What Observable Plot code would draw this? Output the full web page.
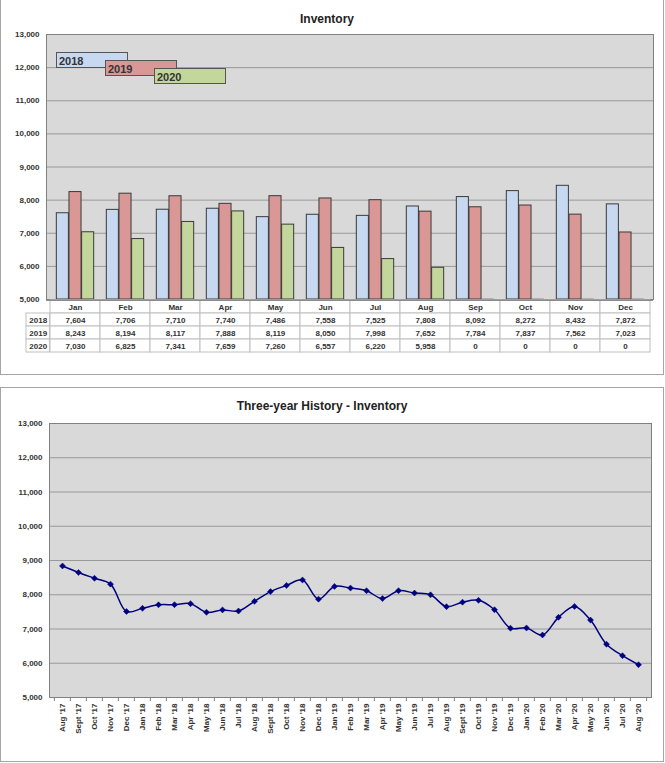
<!DOCTYPE html>
<html>
<head>
<meta charset="utf-8">
<script src="https://cdn.jsdelivr.net/npm/d3@7"></script>
<script src="https://cdn.jsdelivr.net/npm/@observablehq/plot@0.6"></script>
<style>
  html, body { margin: 0; padding: 0; background: #fff; overflow: hidden; }
  #root { position: relative; width: 665px; height: 763px; font-family: "Liberation Sans", Arial, sans-serif; }
  .panel { position: absolute; box-sizing: border-box; border: 1px solid #a6a6a6; background: #fff; }
  .title { position: absolute; font-weight: bold; font-size: 12px; color: #222; white-space: nowrap; transform: translateX(-50%); }
  .leg { position: absolute; box-sizing: border-box; border: 1px solid #555; font-weight: bold; font-size: 11px; color: #333; padding-left: 2px; line-height: 13px; padding-top: 2px; }
</style>
</head>
<body>
<div id="root"></div>
<script>
// ---------- data ----------
const months = ["Jan","Feb","Mar","Apr","May","Jun","Jul","Aug","Sep","Oct","Nov","Dec"];
const years = ["2018","2019","2020"];
const inv2018 = [7604,7706,7710,7740,7486,7558,7525,7808,8092,8272,8432,7872];
const inv2019 = [8243,8194,8117,7888,8119,8050,7998,7652,7784,7837,7562,7023];
const inv2020 = [7030,6825,7341,7659,7260,6557,6220,5958,0,0,0,0];
const yTicks = [5000,6000,7000,8000,9000,10000,11000,12000,13000];
const historyLabels = ["Aug '17","Sept '17","Oct '17","Nov '17","Dec '17",
  "Jan '18","Feb '18","Mar '18","Apr '18","May '18","Jun '18","Jul '18","Aug '18","Sept '18","Oct '18","Nov '18","Dec '18",
  "Jan '19","Feb '19","Mar '19","Apr '19","May '19","Jun '19","Jul '19","Aug '19","Sept '19","Oct '19","Nov '19","Dec '19",
  "Jan '20","Feb '20","Mar '20","Apr '20","May '20","Jun '20","Jul '20","Aug '20"];
const historyValues = [8840,8650,8480,8310,7510,
  7604,7706,7710,7740,7486,7558,7525,7808,8092,8272,8432,7872,
  8243,8194,8117,7888,8119,8050,7998,7652,7784,7837,7562,7023,
  7030,6825,7341,7659,7260,6557,6220,5958];

const yearColors = ["#c6d9f0","#d99795","#c3d69b"];
const series = [inv2018, inv2019, inv2020];
const fmt = d3.format(",");
const FONT = '"Liberation Sans", Arial, sans-serif';

const root = document.getElementById("root");
function add(html) { root.insertAdjacentHTML("beforeend", html); }

// panels
add('<div class="panel" style="left:0;top:-2px;width:664px;height:377px"></div>');
add('<div class="panel" style="left:0;top:387px;width:664px;height:375px"></div>');
add('<div class="title" style="left:327px;top:12px">Inventory</div>');
add('<div class="title" style="left:322px;top:399px">Three-year History - Inventory</div>');

// ---------- bar chart ----------
const W = 665, ML = 46, MR = 12;
const bw = (W - ML - MR) / months.length;
const rows = [];
years.forEach((yr, i) => months.forEach((m, j) => rows.push({year: yr, month: m, value: series[i][j]})));
const yMin = yTicks[0];

const barMarks = [
  Plot.frame({fill: "#d9d9d9"}),
  Plot.ruleY(yTicks, {stroke: "#999", strokeWidth: 1})
];
years.forEach((yr, i) => {
  const inL = bw / 8 + i * bw / 4;
  const inR = bw - bw / 8 - (i + 1) * bw / 4;
  const data = rows.filter(r => r.year === yr);
  barMarks.push(Plot.barY(data.filter(d => d.value > yMin), {
    x: "month", y1: () => yMin, y2: "value",
    fill: yearColors[i], stroke: "#3a3a3a", strokeWidth: 1,
    insetLeft: inL, insetRight: inR
  }));
  barMarks.push(Plot.tickY(data.filter(d => d.value <= yMin), {
    x: "month", y: () => yMin, stroke: "#3a3a3a", strokeWidth: 1.5,
    insetLeft: inL, insetRight: inR
  }));
});
barMarks.push(Plot.frame({stroke: "#808080"}));

const barPlot = Plot.plot({
  width: W, height: 307,
  marginLeft: ML, marginRight: MR, marginTop: 34, marginBottom: 8,
  style: {background: "transparent", fontFamily: FONT, fontSize: "8px", fontWeight: "bold", color: "#333", overflow: "visible"},
  x: {domain: months, padding: 0, axis: null},
  y: {domain: [yTicks[0], yTicks[yTicks.length - 1]], ticks: yTicks, tickFormat: fmt, tickSize: 0, tickPadding: 7, label: null},
  marks: barMarks
});
barPlot.style.position = "absolute"; barPlot.style.left = "0px"; barPlot.style.top = "0px";
root.appendChild(barPlot);

// legend
const legPos = [[56,52],[105,60],[154,68]];
years.forEach((yr, i) => add(`<div class="leg" style="left:${legPos[i][0]}px;top:${legPos[i][1]}px;width:72px;height:16px;background:${yearColors[i]}">${yr}</div>`));

// ---------- data table ----------
const rowKeys = ["head", ...years];
const tableCells = [];
months.forEach((m, j) => {
  tableCells.push({row: "head", month: m, text: m});
  years.forEach((yr, i) => tableCells.push({row: yr, month: m, text: fmt(series[i][j])}));
});
const labelW = 24;
const tablePlot = Plot.plot({
  width: W, height: 53,
  marginLeft: ML, marginRight: MR, marginTop: 0, marginBottom: 0,
  style: {background: "transparent", fontFamily: FONT, fontSize: "8px", fontWeight: "bold", color: "#333", overflow: "visible"},
  x: {domain: months, padding: 0, axis: null},
  y: {domain: rowKeys, padding: 0, axis: null},
  marks: [
    Plot.cell(tableCells, {x: "month", y: "row", fill: "white", stroke: "#c0c0c0"}),
    Plot.cell(years, {x: () => months[0], y: d => d, fill: "white", stroke: "#c0c0c0",
      dx: -(bw / 2 + labelW / 2), insetLeft: (bw - labelW) / 2, insetRight: (bw - labelW) / 2}),
    Plot.text(tableCells, {x: "month", y: "row", text: "text", fill: "#333"}),
    Plot.text(years, {x: () => months[0], y: d => d, text: d => d, fill: "#333", dx: -(bw / 2 + labelW / 2)}),
    Plot.ruleY([rowKeys[0]], {y: d => d, stroke: "#808080", dy: -6.6})
  ]
});
tablePlot.style.position = "absolute"; tablePlot.style.left = "0px"; tablePlot.style.top = "299px";
root.appendChild(tablePlot);

// ---------- history line chart ----------
const history = historyLabels.map((l, i) => ({label: l, value: historyValues[i]}));
const LML = 49, LMR = 14, LMT = 36, LMB = 64, LH = 374;
const bw2 = (W - LML - LMR) / historyLabels.length;
const innerH = LH - LMT - LMB;
const linePlot = Plot.plot({
  width: W, height: LH,
  marginLeft: LML, marginRight: LMR, marginTop: LMT, marginBottom: LMB,
  style: {background: "transparent", fontFamily: FONT, fontSize: "8px", fontWeight: "bold", color: "#333", overflow: "visible"},
  x: {domain: historyLabels, padding: 0, tickRotate: -90, tickSize: 0, tickPadding: 6, label: null},
  y: {domain: [yTicks[0], yTicks[yTicks.length - 1]], ticks: yTicks, tickFormat: fmt, tickSize: 0, tickPadding: 7, label: null},
  marks: [
    Plot.frame({fill: "#d9d9d9"}),
    Plot.ruleY(yTicks, {stroke: "#999", strokeWidth: 1}),
    Plot.frame({stroke: "#808080"}),
    // category boundary tick marks below the axis
    Plot.ruleX(historyLabels, {x: d => d, dx: -bw2 / 2, stroke: "#808080", insetTop: innerH, insetBottom: -4}),
    Plot.ruleX(historyLabels.slice(-1), {x: d => d, dx: bw2 / 2, stroke: "#808080", insetTop: innerH, insetBottom: -4}),
    Plot.line(history, {x: "label", y: "value", curve: "catmull-rom", stroke: "#000080", strokeWidth: 1.5}),
    Plot.dot(history, {x: "label", y: "value", symbol: "diamond2", r: 2.7, fill: "#000080", stroke: "#000080", strokeWidth: 0.5})
  ]
});
linePlot.style.position = "absolute"; linePlot.style.left = "0px"; linePlot.style.top = "387px";
root.appendChild(linePlot);
</script>
</body>
</html>
